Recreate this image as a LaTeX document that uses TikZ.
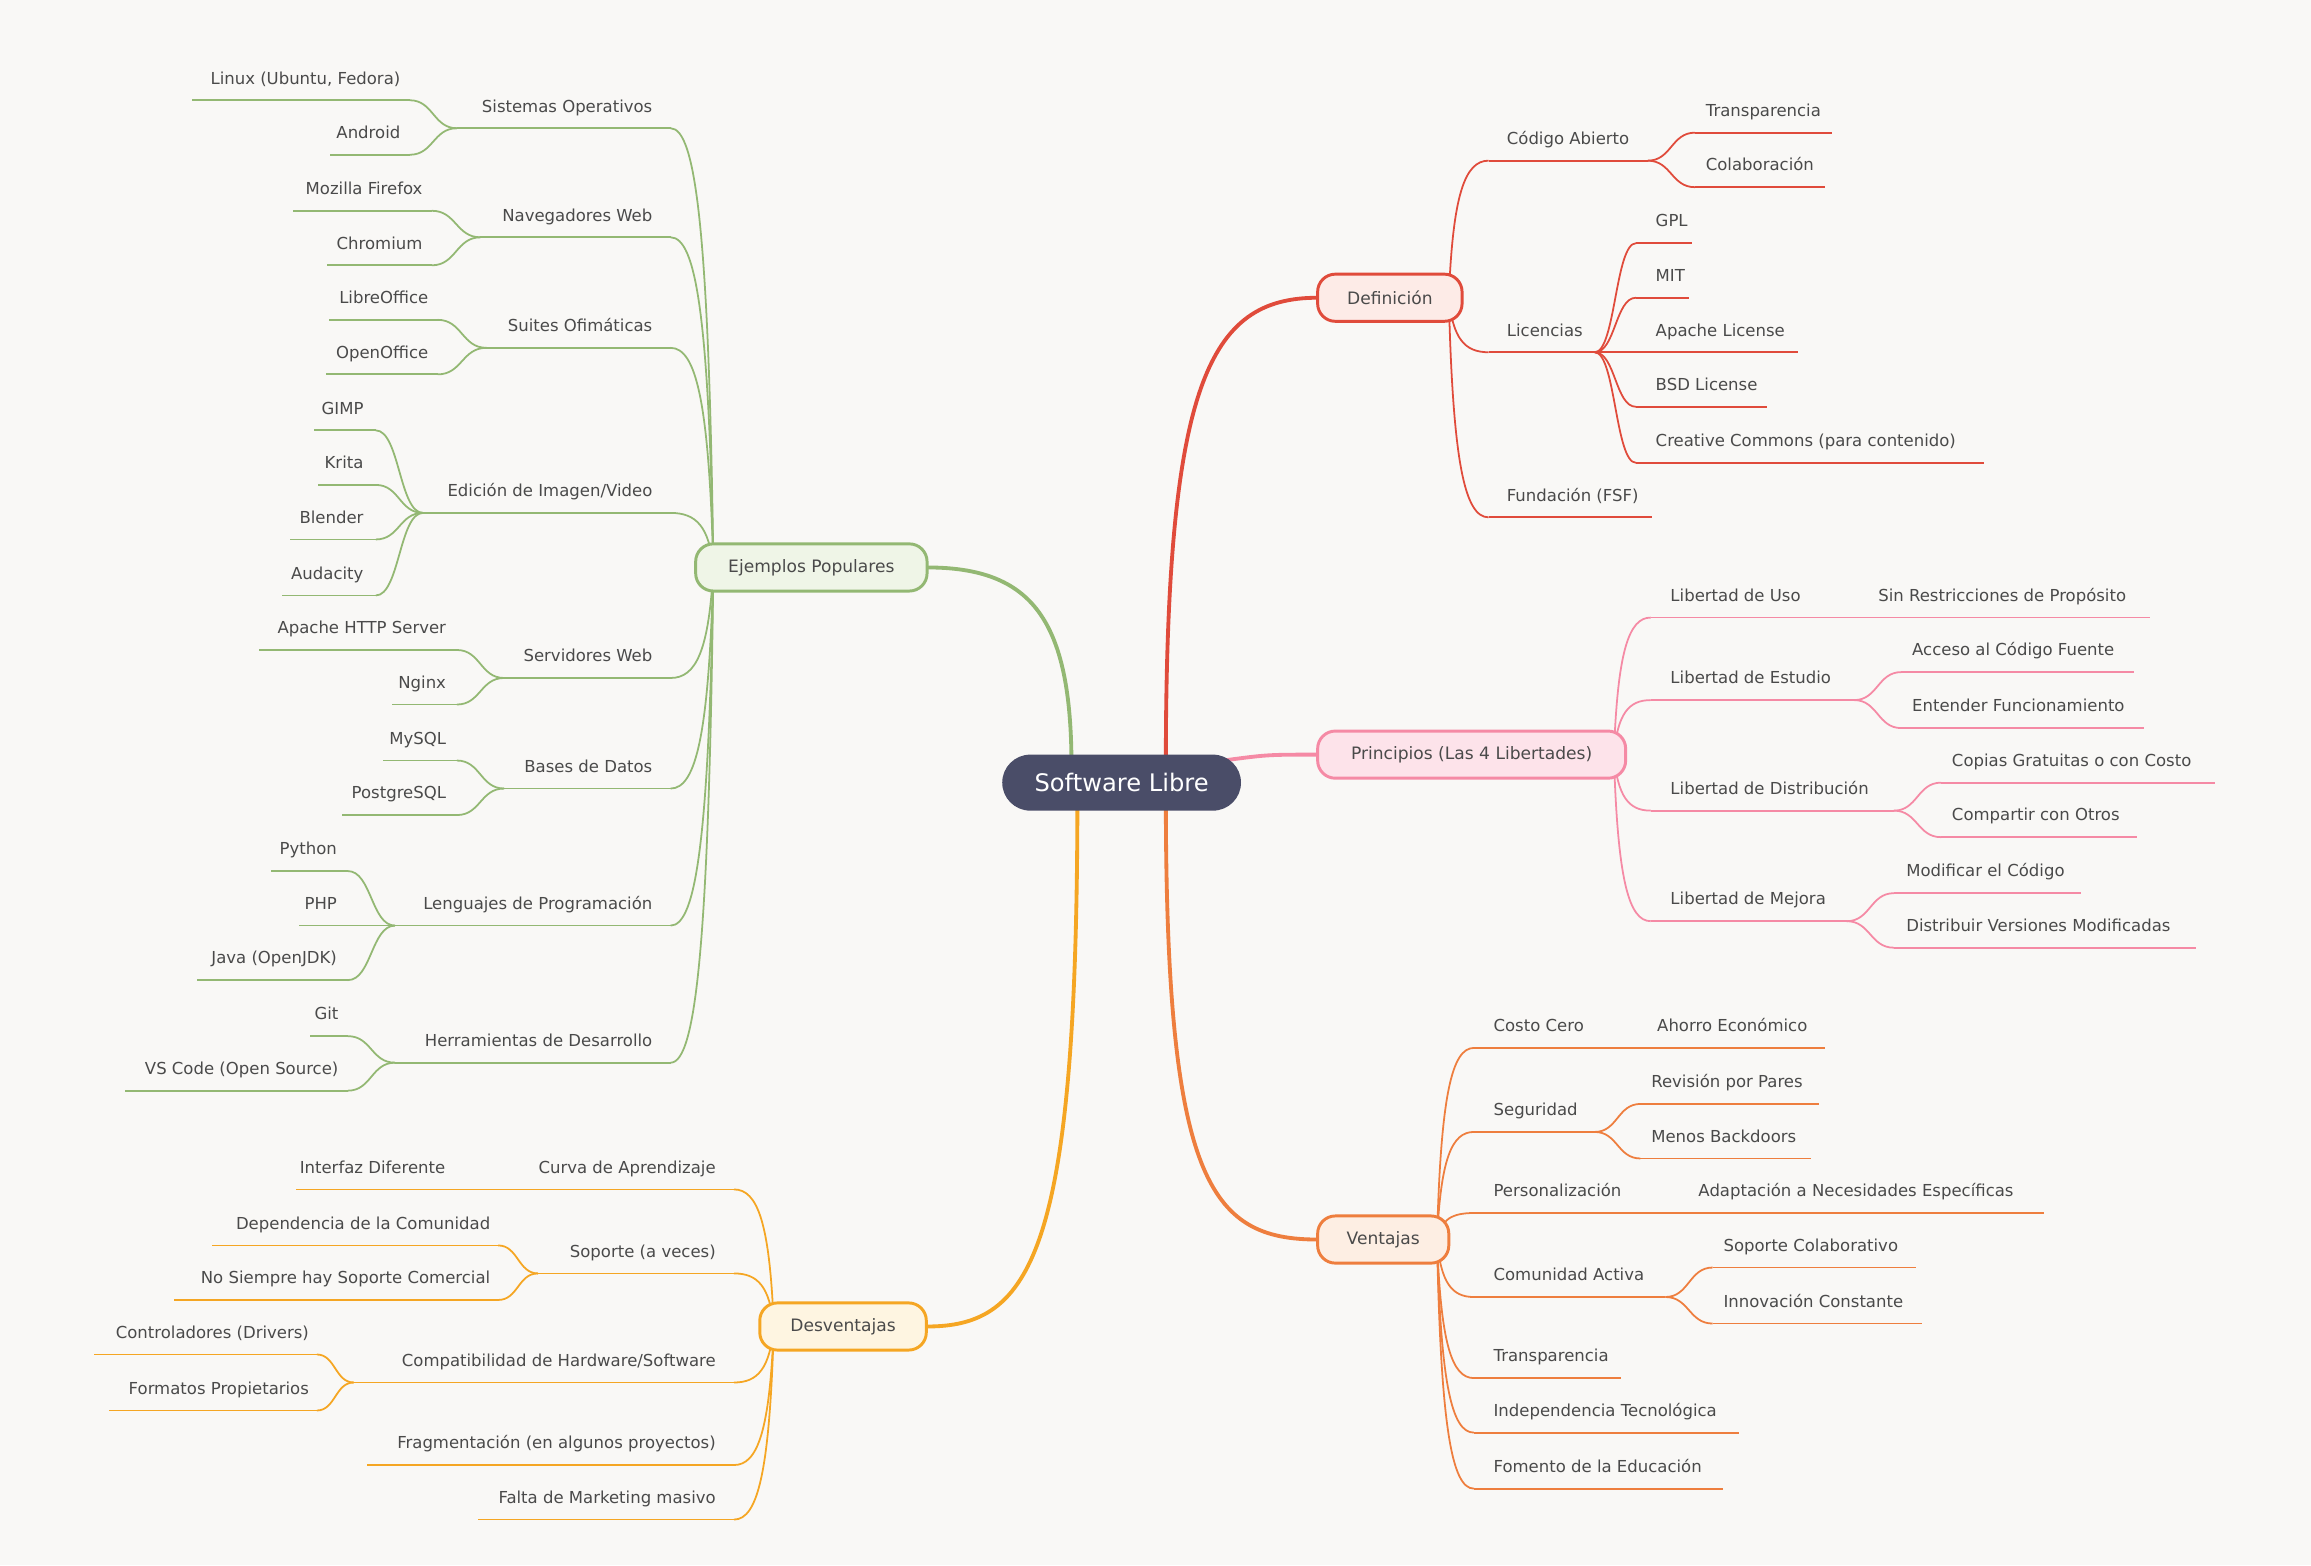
\documentclass[tikz,border=0pt]{standalone}
\usepackage{fontspec}
\setmainfont{DejaVu Sans}
\usetikzlibrary{calc}
\definecolor{bgc}{HTML}{F9F8F6}
\definecolor{txtc}{HTML}{4A4A4A}
\definecolor{cred}{HTML}{E04B3B}
\definecolor{cpink}{HTML}{F58AA5}
\definecolor{corg}{HTML}{EE7E3E}
\definecolor{cgrn}{HTML}{93B873}
\definecolor{cyel}{HTML}{F5A623}
\definecolor{fred}{HTML}{FDEBE7}
\definecolor{fpink}{HTML}{FDE3EA}
\definecolor{forg}{HTML}{FDEEE3}
\definecolor{fgrn}{HTML}{EFF5E7}
\definecolor{fyel}{HTML}{FEF5E1}
\definecolor{cctr}{HTML}{4A4D68}
\tikzset{
 br/.style={line width=0.6pt},
 mainln/.style={line width=1.3pt},
 lbl/.style={font=\fontsize{5.6}{6}\selectfont, text=txtc, inner sep=0pt},
 topic/.style={draw, line width=1pt, rounded corners=6pt, minimum height=16pt, font=\fontsize{5.8}{6}\selectfont, text=txtc, inner sep=0pt},
}
\newcommand\myR[7]{\coordinate (#1s) at (#3,#5); \coordinate (#1e) at (#4,#5);
 \draw[#2,br] (#1s)--(#1e);
 \node[lbl,anchor=base west] (#1) at (#3+#6,#5-11) {#7};}
\newcommand\myL[7]{\coordinate (#1s) at (#4,#5); \coordinate (#1e) at (#3,#5);
 \draw[#2,br] (#1s)--(#1e);
 \node[lbl,anchor=base east] (#1) at (#4-#6,#5-11) {#7};}
\newcommand\Bx[3]{\draw[#1,br] let \p1=(#2),\p2=(#3) in (\p1) .. controls (\x1+0.1*\x2-0.1*\x1, \y1+0.75*\y2-0.75*\y1) and (\x1+0.4*\x2-0.4*\x1,\y2) .. (\p2);}
\newcommand\Fk[3]{\draw[#1,br] let \p1=(#2),\p2=(#3) in (\p1) .. controls (0.5*\x1+0.5*\x2,\y1) and (0.5*\x1+0.5*\x2,\y2) .. (\p2);}
\begin{document}
\begin{tikzpicture}[x=0.5pt,y=-0.5pt]
\fill[bgc] (0,0) rectangle (1568,1062);
\useasboundingbox (0,0) rectangle (1568,1062);
% boxes (positions)
\coordinate (ctr) at (761,531);
\coordinate (defw) at (894,202); \coordinate (defo) at (983,202);
\coordinate (prw) at (894,512); \coordinate (pro) at (1095,512);
\coordinate (venw) at (894,841); \coordinate (veno) at (975,841);
\coordinate (ejw) at (629,385); \coordinate (ejo) at (484,385);
\coordinate (desw) at (629,900); \coordinate (deso) at (525,900);
\coordinate (c1) at (791,520); \coordinate (c2) at (830,516); \coordinate (c3) at (791,540);
\coordinate (c4) at (727,520); \coordinate (c5) at (731,540);
% main connectors
\draw[cred,mainln] (c1) .. controls (791,260) and (820,202) .. (defw);
\draw[cpink,mainln] (c2) .. controls (860,512) .. (prw);
\draw[corg,mainln] (c3) .. controls (791,800) and (820,841) .. (venw);
\draw[cgrn,mainln] (c4) .. controls (727,420) and (700,385) .. (ejw);
\draw[cyel,mainln] (c5) .. controls (731,850) and (700,900) .. (desw);

% ---- Definicion
\myR{ca}{cred}{1010}{1118}{109}{12}{Código Abierto}
\myR{tr}{cred}{1150}{1243}{90}{7}{Transparencia}
\myR{co}{cred}{1150}{1238}{127}{7}{Colaboración}
\myR{li}{cred}{1010}{1082}{239}{12}{Licencias}
\myR{gpl}{cred}{1110}{1148}{165}{13}{GPL}
\myR{mit}{cred}{1110}{1146}{202}{13}{MIT}
\myR{apl}{cred}{1110}{1220}{239}{13}{Apache License}
\myR{bsd}{cred}{1110}{1199}{276}{13}{BSD License}
\myR{cc}{cred}{1110}{1346}{314}{13}{Creative Commons (para contenido)}
\myR{fsf}{cred}{1010}{1121}{351}{12}{Fundación (FSF)}
\Bx{cred}{defo}{cas}\Bx{cred}{defo}{lis}\Bx{cred}{defo}{fsfs}
\Fk{cred}{cae}{trs}\Fk{cred}{cae}{cos}
\Fk{cred}{lie}{gpls}\Fk{cred}{lie}{mits}\Fk{cred}{lie}{apls}\Fk{cred}{lie}{bsds}\Fk{cred}{lie}{ccs}

% ---- Principios
\myR{lu}{cpink}{1120}{1459}{419}{13}{Libertad de Uso}
\node[lbl,anchor=base west] (sr) at (1274,408) {Sin Restricciones de Propósito};
\myR{le}{cpink}{1120}{1258}{475}{13}{Libertad de Estudio}
\myR{ac}{cpink}{1290}{1448}{456}{7}{Acceso al Código Fuente}
\myR{ef}{cpink}{1290}{1455}{494}{7}{Entender Funcionamiento}
\myR{ld}{cpink}{1120}{1285}{550}{13}{Libertad de Distribución}
\myR{cg}{cpink}{1317}{1503}{531}{7}{Copias Gratuitas o con Costo}
\myR{cp}{cpink}{1317}{1450}{568}{7}{Compartir con Otros}
\myR{lm}{cpink}{1120}{1253}{625}{13}{Libertad de Mejora}
\myR{mc}{cpink}{1285}{1412}{606}{8}{Modificar el Código}
\myR{dv}{cpink}{1285}{1490}{643}{8}{Distribuir Versiones Modificadas}
\Bx{cpink}{pro}{lus}\Bx{cpink}{pro}{les}\Bx{cpink}{pro}{lds}\Bx{cpink}{pro}{lms}
\Fk{cpink}{lee}{acs}\Fk{cpink}{lee}{efs}\Fk{cpink}{lde}{cgs}\Fk{cpink}{lde}{cps}
\Fk{cpink}{lme}{mcs}\Fk{cpink}{lme}{dvs}

% ---- Ventajas
\myR{cc0}{corg}{1000}{1238}{711}{13}{Costo Cero}
\node[lbl,anchor=base west] (ae) at (1124,700) {Ahorro Económico};
\myR{se}{corg}{1000}{1082}{768}{13}{Seguridad}
\myR{rp}{corg}{1113}{1234}{749}{7}{Revisión por Pares}
\myR{mb}{corg}{1113}{1229}{786}{7}{Menos Backdoors}
\myR{pe}{corg}{1000}{1387}{823}{13}{Personalización}
\node[lbl,anchor=base west] (an) at (1152,812) {Adaptación a Necesidades Específicas};
\myR{ca2}{corg}{1000}{1130}{880}{13}{Comunidad Activa}
\myR{sc}{corg}{1162}{1300}{860}{7}{Soporte Colaborativo}
\myR{ic}{corg}{1162}{1304}{898}{7}{Innovación Constante}
\myR{tp}{corg}{1000}{1100}{935}{13}{Transparencia}
\myR{it}{corg}{1000}{1180}{972}{13}{Independencia Tecnológica}
\myR{fe}{corg}{1000}{1169}{1010}{13}{Fomento de la Educación}
\Bx{corg}{veno}{cc0s}\Bx{corg}{veno}{ses}\Bx{corg}{veno}{pes}\Bx{corg}{veno}{ca2s}
\Bx{corg}{veno}{tps}\Bx{corg}{veno}{its}\Bx{corg}{veno}{fes}
\Fk{corg}{see}{rps}\Fk{corg}{see}{mbs}\Fk{corg}{ca2e}{scs}\Fk{corg}{ca2e}{ics}

% ---- Ejemplos Populares
\myL{so}{cgrn}{310}{455}{87}{12}{Sistemas Operativos}
\myL{lx}{cgrn}{130}{278}{68}{6}{Linux (Ubuntu, Fedora)}
\myL{an2}{cgrn}{224}{278}{105}{6}{Android}
\myL{nw}{cgrn}{326}{455}{161}{12}{Navegadores Web}
\myL{mf}{cgrn}{199}{293}{143}{6}{Mozilla Firefox}
\myL{ch}{cgrn}{222}{293}{180}{6}{Chromium}
\myL{sf}{cgrn}{330}{455}{236}{12}{Suites Ofimáticas}
\myL{lo}{cgrn}{223}{297}{217}{6}{LibreOffice}
\myL{oo}{cgrn}{221}{297}{254}{6}{OpenOffice}
\myL{ei}{cgrn}{287}{455}{348}{12}{Edición de Imagen/Video}
\myL{gi}{cgrn}{213}{255}{292}{8}{GIMP}
\myL{kr}{cgrn}{216}{255}{329}{8}{Krita}
\myL{bl}{cgrn}{197}{255}{366}{8}{Blender}
\myL{au}{cgrn}{191}{255}{404}{8}{Audacity}
\myL{sw}{cgrn}{342}{455}{460}{12}{Servidores Web}
\myL{ah}{cgrn}{176}{310}{441}{7}{Apache HTTP Server}
\myL{ng}{cgrn}{266}{310}{478}{7}{Nginx}
\myL{bd}{cgrn}{342}{455}{535}{12}{Bases de Datos}
\myL{my}{cgrn}{260}{310}{516}{7}{MySQL}
\myL{pg}{cgrn}{232}{310}{553}{7}{PostgreSQL}
\myL{lp}{cgrn}{268}{455}{628}{12}{Lenguajes de Programación}
\myL{py}{cgrn}{184}{236}{591}{7}{Python}
\myL{php}{cgrn}{203}{236}{628}{7}{PHP}
\myL{ja}{cgrn}{134}{236}{665}{7}{Java (OpenJDK)}
\myL{hd}{cgrn}{268}{455}{721}{12}{Herramientas de Desarrollo}
\myL{gt}{cgrn}{210}{236}{703}{6}{Git}
\myL{vs}{cgrn}{85}{236}{740}{6}{VS Code (Open Source)}
\Bx{cgrn}{ejo}{sos}\Bx{cgrn}{ejo}{nws}\Bx{cgrn}{ejo}{sfs}\Bx{cgrn}{ejo}{eis}
\Bx{cgrn}{ejo}{sws}\Bx{cgrn}{ejo}{bds}\Bx{cgrn}{ejo}{lps}\Bx{cgrn}{ejo}{hds}
\Fk{cgrn}{soe}{lxs}\Fk{cgrn}{soe}{an2s}\Fk{cgrn}{nwe}{mfs}\Fk{cgrn}{nwe}{chs}
\Fk{cgrn}{sfe}{los}\Fk{cgrn}{sfe}{oos}
\Fk{cgrn}{eie}{gis}\Fk{cgrn}{eie}{krs}\Fk{cgrn}{eie}{bls}\Fk{cgrn}{eie}{aus}
\Fk{cgrn}{swe}{ahs}\Fk{cgrn}{swe}{ngs}\Fk{cgrn}{bde}{mys}\Fk{cgrn}{bde}{pgs}
\Fk{cgrn}{lpe}{pys}\Fk{cgrn}{lpe}{phps}\Fk{cgrn}{lpe}{jas}
\Fk{cgrn}{hde}{gts}\Fk{cgrn}{hde}{vss}

% ---- Desventajas
\myL{cap}{cyel}{201}{498}{807}{12}{Curva de Aprendizaje}
\node[lbl,anchor=base west] (ifd) at (203,796) {Interfaz Diferente};
\myL{sav}{cyel}{365}{498}{864}{12}{Soporte (a veces)}
\myL{dc}{cyel}{144}{338}{845}{5}{Dependencia de la Comunidad}
\myL{ns}{cyel}{118}{338}{882}{5}{No Siempre hay Soporte Comercial}
\myL{hw}{cyel}{240}{498}{938}{12}{Compatibilidad de Hardware/Software}
\myL{dr}{cyel}{64}{215}{919}{5}{Controladores (Drivers)}
\myL{fp}{cyel}{74}{215}{957}{5}{Formatos Propietarios}
\myL{fr}{cyel}{249}{498}{994}{12}{Fragmentación (en algunos proyectos)}
\myL{fm}{cyel}{324}{498}{1031}{12}{Falta de Marketing masivo}
\Bx{cyel}{deso}{caps}\Bx{cyel}{deso}{savs}\Bx{cyel}{deso}{hws}\Bx{cyel}{deso}{frs}\Bx{cyel}{deso}{fms}
\Fk{cyel}{save}{dcs}\Fk{cyel}{save}{nss}\Fk{cyel}{hwe}{drs}\Fk{cyel}{hwe}{fps}

% ---- topic boxes on top
\node[topic,draw=cred,fill=fred,minimum width=49pt] (def) at (943,202) {Definición};
\node[topic,draw=cpink,fill=fpink,minimum width=104.5pt] (pri) at (998.5,512) {Principios (Las 4 Libertades)};
\node[topic,draw=corg,fill=forg,minimum width=44.5pt] (ven) at (938.5,841) {Ventajas};
\node[topic,draw=cgrn,fill=fgrn,minimum width=78.5pt] (ej) at (550.5,385) {Ejemplos Populares};
\node[topic,draw=cyel,fill=fyel,minimum width=56.5pt] (des) at (572,900) {Desventajas};
\node[fill=cctr,text=white,rounded corners=9.5pt,minimum width=81pt,minimum height=19pt,inner sep=0pt,font=\fontsize{8.2}{9}\selectfont] (sl) at (ctr) {Software Libre};
\end{tikzpicture}
\end{document}
